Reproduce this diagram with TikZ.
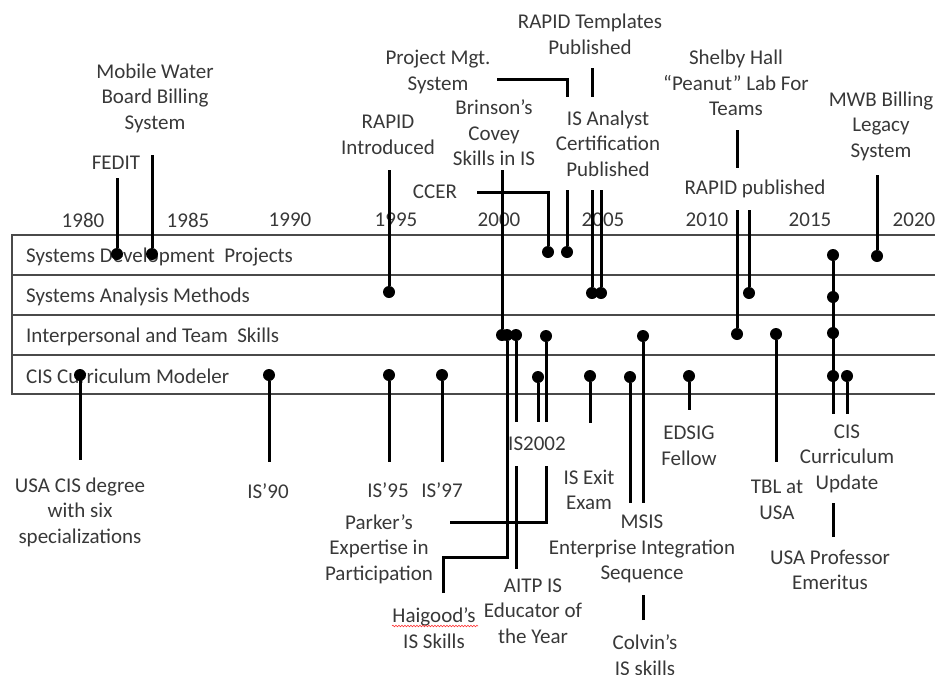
\documentclass[tikz,border=0pt]{standalone}
\usepackage{fontspec}
\setmainfont{Carlito}
\usetikzlibrary{decorations.pathmorphing}
\definecolor{txt}{HTML}{383838}
\definecolor{gridc}{HTML}{4A4A4A}
\begin{document}
\begin{tikzpicture}[x=1pt,y=-1pt,
  conn/.style={line width=3pt,black},
  dotn/.style={circle,fill=black,inner sep=0pt,minimum size=12pt},
  lbl/.style={font=\fontsize{21}{25.5}\selectfont,text=txt,align=center,inner sep=0pt},
  occ/.style={lbl,fill=white,inner xsep=2pt},
  gridl/.style={line width=2pt,draw=gridc}]
\useasboundingbox (0,0) rectangle (935,675);
% table
\draw[gridl] (945,235) -- (12,235) -- (12,394) -- (945,394);
\draw[gridl] (12,275) -- (945,275);
\draw[gridl] (12,315) -- (945,315);
\draw[gridl] (12,355) -- (945,355);
\node[lbl,anchor=west] (r1) at (26,257) {Systems Development~ Projects};
\node[lbl,anchor=west] (r2) at (26,297) {Systems Analysis Methods};
\node[lbl,anchor=west] (r3) at (26,337) {Interpersonal and Team~ Skills};
\node[lbl,anchor=west] (r4) at (26,376) {CIS Curriculum Modeler};
% years
\node[lbl] (y80) at (83,220) {1980};
\node[lbl] (y85) at (188,220) {1985};
\node[lbl] (y90) at (290,220) {1990};
\node[lbl] (y95) at (396,220) {1995};
\node[lbl] (y00) at (499,220) {2000};
\node[lbl] (y05) at (603,220) {2005};
\node[lbl] (y10) at (707,220) {2010};
\node[lbl] (y15) at (810,220) {2015};
\node[lbl] (y20) at (914,220) {2020};
% dots
\node[dotn] (a1) at (117,254) {};
\node[dotn] (a2) at (152,254) {};
\node[dotn] (a3) at (548,252) {};
\node[dotn] (a4) at (567,252) {};
\node[dotn] (a5) at (833,255) {};
\node[dotn] (a6) at (877,256) {};
\node[dotn] (b1) at (389,292) {};
\node[dotn] (b2) at (592,293) {};
\node[dotn] (b3) at (601,293) {};
\node[dotn] (b4) at (749,293) {};
\node[dotn] (b5) at (833,297) {};
\node[dotn] (c1) at (502,335) {};
\node[dotn] (c2) at (507,335) {};
\node[dotn] (c3) at (516,335) {};
\node[dotn] (c4) at (546,336) {};
\node[dotn] (c5) at (643,336) {};
\node[dotn] (c6) at (737,334) {};
\node[dotn] (c7) at (776,334) {};
\node[dotn] (c8) at (833,333) {};
\node[dotn] (d1) at (80,375) {};
\node[dotn] (d2) at (269,375) {};
\node[dotn] (d3) at (389,375) {};
\node[dotn] (d4) at (442,375) {};
\node[dotn] (d5) at (538,377) {};
\node[dotn] (d6) at (590,376) {};
\node[dotn] (d7) at (630,377) {};
\node[dotn] (d8) at (689,376) {};
\node[dotn] (d9) at (833,376) {};
\node[dotn] (d10) at (847,376) {};
% connectors that pass behind text boxes
\coordinate (pm0) at (497,79);
\draw[conn] (pm0) -| (a4);
\coordinate (rt0) at (592,68);
\draw[conn] (rt0) -- (b2);
\coordinate (sh0) at (737,130);
\draw[conn] (sh0) -- (c6);
\coordinate (co0) at (643,620);
\draw[conn] (co0) -- (c5);
\coordinate (up0) at (833,537);
\draw[conn] (up0) -- (a5);
% occluding text boxes
\node[occ,minimum height=93pt] (isan) at (608,143.5) {IS Analyst\\Certification\\Published};
\node[occ,minimum height=42pt] (rapidp) at (755,189) {RAPID published};
\node[occ,minimum height=92pt] (msis) at (642,549) {MSIS\\Enterprise Integration\\Sequence};
\node[occ,minimum height=89pt] (cisupd) at (847,458.5) {CIS\\Curriculum\\Update};
\coordinate (pk0) at (450,522);
\draw[conn] (pk0) -| (c4);
\coordinate (ai0) at (516,569);
\draw[conn] (c3) -- (ai0);
\node[occ,minimum height=44pt,inner xsep=1pt] (is2002) at (537,444) {IS2002};
% other connectors
\coordinate (fe0) at (117,178);
\draw[conn] (fe0) -- (a1);
\coordinate (mo0) at (152,155);
\draw[conn] (mo0) -- (a2);
\coordinate (ri0) at (389,170);
\draw[conn] (ri0) -- (b1);
\draw[conn] (isan.south -| b3) -- (b3);
\coordinate (br0) at (502,170);
\draw[conn] (br0) -- (c1);
\coordinate (cc0) at (477,192);
\draw[conn] (cc0) -| (a3);
\draw[conn] (rapidp.south -| b4) -- (b4);
\coordinate (mw0) at (877,175);
\draw[conn] (mw0) -- (a6);
\coordinate (us0) at (80,460);
\draw[conn] (d1) -- (us0);
\coordinate (i90) at (269,462);
\draw[conn] (d2) -- (i90);
\coordinate (i95) at (389,462);
\draw[conn] (d3) -- (i95);
\coordinate (i97) at (442,462);
\draw[conn] (d4) -- (i97);
\coordinate (hg0) at (443,593);
\coordinate (hg1) at (443,557);
\draw[conn] (hg0) -- (hg1) -| (c2);
\draw[conn] (d5) -- (is2002.north -| d5);
\coordinate (ie0) at (590,423);
\draw[conn] (d6) -- (ie0);
\draw[conn] (d7) -- (msis.north -| d7);
\coordinate (ed0) at (689,410);
\draw[conn] (d8) -- (ed0);
\coordinate (tb0) at (776,462);
\draw[conn] (c7) -- (tb0);
\draw[conn] (d10) -- (cisupd.north -| d10);
% other labels
\node[lbl] (fedit) at (116,163) {FEDIT};
\node[lbl] (mobile) at (155,98) {Mobile Water\\Board Billing\\System};
\node[lbl] (rapidi) at (388,135) {RAPID\\Introduced};
\node[lbl] (pmgt) at (438,72) {Project Mgt.\\System};
\node[lbl] (rtemp) at (590,34.5) {RAPID Templates\\Published};
\node[lbl] (brinson) at (494,133) {Brinson’s\\Covey\\Skills in IS};
\node[lbl] (ccer) at (435,192) {CCER};
\node[lbl] (shelby) at (736,83) {Shelby Hall\\“Peanut” Lab For\\Teams};
\node[lbl] (mwb) at (881,126) {MWB Billing\\Legacy\\System};
\node[lbl] (usacis) at (80,512) {USA CIS degree\\with six\\specializations};
\node[lbl] (is90) at (268,491) {IS’90};
\node[lbl] (is95) at (388,490) {IS’95};
\node[lbl] (is97) at (442,490) {IS’97};
\node[lbl] (parker) at (379,549) {Parker’s\\Expertise in\\Participation};
\node[lbl] (haigood) at (434,628) {Haigood’s\\IS Skills};
\draw[red!80,line width=0.6pt,decorate,decoration={snake,amplitude=0.8pt,segment length=3pt}] (392,626) -- (478,626);
\node[lbl] (aitp) at (533,611) {AITP IS\\Educator of\\the Year};
\node[lbl] (isexit) at (589,490) {IS Exit\\Exam};
\node[lbl] (colvin) at (645,655) {Colvin’s\\IS skills};
\node[lbl] (edsig) at (689,446) {EDSIG\\Fellow};
\node[lbl] (tbl) at (777,500) {TBL at\\USA};
\node[lbl] (usaprof) at (830,570) {USA Professor\\Emeritus};
\end{tikzpicture}
\end{document}
